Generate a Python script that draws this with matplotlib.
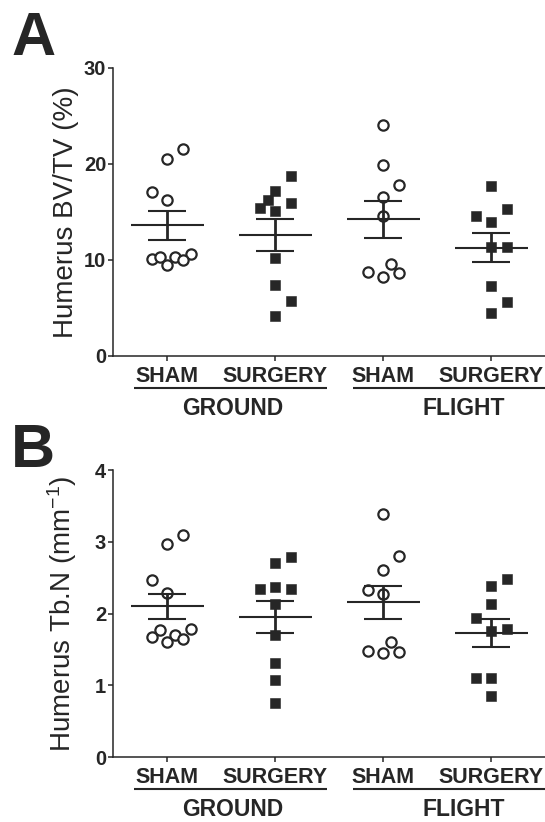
import numpy as np
import matplotlib
matplotlib.use("Agg")
import matplotlib.pyplot as plt
from matplotlib import transforms

plt.rcParams["font.family"] = ["Liberation Sans", "DejaVu Sans"]
plt.rcParams["mathtext.fontset"] = "custom"
plt.rcParams["mathtext.rm"] = "Liberation Sans"
plt.rcParams["mathtext.it"] = "Liberation Sans:italic"
plt.rcParams["mathtext.bf"] = "Liberation Sans:bold"

# ---- data ----
group_labels = ["SHAM", "SURGERY", "SHAM", "SURGERY"]
condition_labels = ["GROUND", "FLIGHT"]

# Panel A: Humerus BV/TV (%)
bvtv_ground_sham = [21.5, 20.5, 17.0, 16.2, 10.1, 10.3, 10.3, 10.6, 9.4, 10.0]
bvtv_ground_surgery = [18.7, 17.2, 16.2, 15.4, 15.1, 15.9, 10.2, 7.4, 5.7, 4.1]
bvtv_flight_sham = [24.0, 19.9, 17.8, 16.5, 14.5, 8.7, 8.2, 9.5, 8.6]
bvtv_flight_surgery = [17.7, 14.6, 15.3, 13.9, 11.3, 11.3, 7.3, 5.6, 4.4]

# Panel B: Humerus Tb.N (1/mm)
tbn_ground_sham = [3.09, 2.97, 2.47, 2.29, 1.77, 1.78, 1.68, 1.70, 1.65, 1.61]
tbn_ground_surgery = [2.79, 2.71, 2.34, 2.37, 2.34, 2.14, 1.70, 1.31, 1.07, 0.75]
tbn_flight_sham = [3.39, 2.80, 2.61, 2.33, 2.28, 1.61, 1.48, 1.45, 1.47]
tbn_flight_surgery = [2.48, 2.39, 2.14, 1.94, 1.79, 1.76, 1.11, 1.10, 0.86]

# swarm slots (horizontal scatter of the dots, in units of STEP)
slots_a = [
    [2, 0, -2, 0, -2, -1, 1, 3, 0, 2],
    [2, 0, -1, -2, 0, 2, 0, 0, 2, 0],
    [0, 0, 2, 0, 0, -2, 0, 1, 2],
    [0, -2, 2, 0, 0, 2, 0, 2, 0],
]
slots_b = [
    [2, 0, -2, 0, -1, 3, -2, 1, 2, 0],
    [2, 0, -2, 0, 2, 0, 0, 0, 0, 0],
    [0, 2, 0, -2, 0, 1, -2, 0, 2],
    [2, 0, 0, -2, 2, 0, -2, 0, 0],
]

INK = "#262626"
STEP = 0.072
FIG_W, FIG_H = 545, 822


def px_offset(fig, dy_px):
    return transforms.ScaledTranslation(0, -dy_px / fig.dpi, fig.dpi_scale_trans)


def draw_panel(fig, ax, groups, slots, ymax, yticks, ylabel):
    for i, (vals, sl) in enumerate(zip(groups, slots)):
        x0 = i + 1
        vals = np.asarray(vals, dtype=float)
        xs = x0 + np.asarray(sl) * STEP
        if i % 2 == 0:
            ax.plot(xs, vals, ls="none", marker="o", ms=7.4, mfc="white",
                    mec=INK, mew=1.6, zorder=2, clip_on=False)
        else:
            ax.plot(xs, vals, ls="none", marker="s", ms=7.8, mfc=INK,
                    mec=INK, mew=0.4, zorder=2, clip_on=False)
        mean = vals.mean()
        sem = vals.std(ddof=1) / np.sqrt(len(vals))
        ax.hlines(mean, x0 - 0.34, x0 + 0.34, color=INK, lw=1.5, zorder=4)
        ax.hlines([mean - sem, mean + sem], x0 - 0.175, x0 + 0.175,
                  color=INK, lw=1.5, zorder=4)
        ax.vlines(x0, mean - sem, mean + sem, color=INK, lw=2.0, zorder=4)

    ax.set_xlim(0.5, 4.5)
    ax.set_ylim(0, ymax)
    ax.set_yticks(yticks)
    ax.set_xticks([1, 2, 3, 4])
    ax.set_xticklabels([])
    for side in ("top", "right"):
        ax.spines[side].set_visible(False)
    for side in ("left", "bottom"):
        ax.spines[side].set_linewidth(1.1)
        ax.spines[side].set_color(INK)
    ax.tick_params(axis="both", direction="out", length=3.6, width=1.1,
                   color=INK, labelcolor=INK)
    ax.tick_params(axis="y", labelsize=14.5, pad=1.5)
    for lab in ax.get_yticklabels():
        lab.set_fontweight("bold")

    ax.set_ylabel(ylabel, fontsize=20, color=INK)
    ax.yaxis.set_label_coords(-0.08, 0.5)

    base = transforms.blended_transform_factory(ax.transData, ax.transAxes)
    for i, name in enumerate(group_labels):
        ax.text(i + 1, 0, name, transform=base + px_offset(fig, 26),
                ha="center", va="baseline", fontsize=15.5, fontweight="bold",
                color=INK)
    spans = [(0.694, 2.481), (2.722, 4.80)]
    centers = [1.604, 3.747]
    for (x1, x2), xc, name in zip(spans, centers, condition_labels):
        ax.plot([x1, x2], [0, 0], transform=base + px_offset(fig, 32),
                color=INK, lw=1.5, clip_on=False, solid_capstyle="butt")
        ax.text(xc, 0, name, transform=base + px_offset(fig, 59),
                ha="center", va="baseline", fontsize=16.5, fontweight="bold",
                color=INK)


fig = plt.figure(figsize=(FIG_W / 100, FIG_H / 100), dpi=100)
left = 113.3 / FIG_W
width = 432 / FIG_W
ax_a = fig.add_axes([left, 1 - 355.7 / FIG_H, width, 288 / FIG_H])
ax_b = fig.add_axes([left, 1 - 757.3 / FIG_H, width, 287.3 / FIG_H])

draw_panel(fig, ax_a,
           [bvtv_ground_sham, bvtv_ground_surgery, bvtv_flight_sham, bvtv_flight_surgery],
           slots_a, 30, [0, 10, 20, 30], "Humerus BV/TV (%)")
draw_panel(fig, ax_b,
           [tbn_ground_sham, tbn_ground_surgery, tbn_flight_sham, tbn_flight_surgery],
           slots_b, 4, [0, 1, 2, 3, 4], r"Humerus Tb.N (mm$^{\mathregular{-1}}$)")

fig.text(11 / FIG_W, 1 - 55 / FIG_H, "A", fontsize=44, fontweight="bold",
         color=INK, ha="left", va="baseline")
fig.text(10.5 / FIG_W, 1 - 466.7 / FIG_H, "B", fontsize=44, fontweight="bold",
         color=INK, ha="left", va="baseline")

fig.savefig("out.png", dpi=100)
